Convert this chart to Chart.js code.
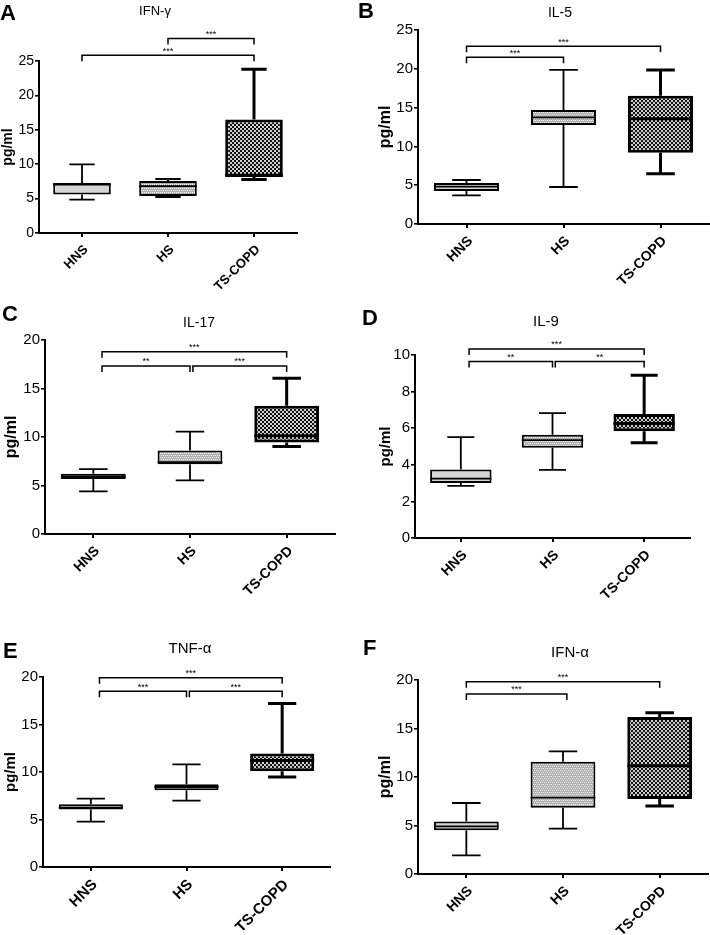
<!DOCTYPE html>
<html><head><meta charset="utf-8">
<script src="https://cdn.jsdelivr.net/npm/chart.js@4/dist/chart.umd.min.js"></script>
<style>
html,body{margin:0;padding:0;background:#fff;}
#fig{position:relative;width:710px;height:935px;overflow:hidden;background:#fff;}
canvas{position:absolute;}
</style></head><body>
<div id="fig">
<canvas id="cA" width="355" height="305" style="left:0px;top:0px"></canvas>
<canvas id="cB" width="355" height="305" style="left:355px;top:0px"></canvas>
<canvas id="cC" width="355" height="315" style="left:0px;top:305px"></canvas>
<canvas id="cD" width="355" height="315" style="left:355px;top:305px"></canvas>
<canvas id="cE" width="355" height="315" style="left:0px;top:620px"></canvas>
<canvas id="cF" width="355" height="315" style="left:355px;top:620px"></canvas>
</div>
<script>
// ---------------- DATA ----------------
const categories = ['HNS', 'HS', 'TS-COPD'];
// five-number summaries per group: [min, q1, median, q3, max]
const ifnGamma = [[4.85, 5.58, 7.05, 7.27, 9.98], [5.23, 5.38, 6.8, 7.55, 7.85], [7.76, 8.14, 8.4, 16.5, 23.8]];
const il5      = [[3.69, 4.25, 4.81, 5.28, 5.67], [4.77, 12.76, 13.75, 14.69, 19.85], [6.49, 9.19, 13.55, 16.53, 19.85]];
const il17     = [[4.39, 5.66, 5.93, 6.2, 6.69], [5.52, 7.2, 7.41, 8.62, 10.56], [9.02, 9.43, 10.12, 13.22, 16.05]];
const il9      = [[2.85, 3.01, 3.25, 3.74, 5.51], [3.72, 4.93, 5.35, 5.64, 6.82], [5.2, 5.84, 6.26, 6.77, 8.89]];
const tnfAlpha = [[4.77, 6.04, 6.25, 6.6, 7.19], [6.98, 8.07, 8.42, 8.7, 10.8], [9.47, 10.07, 11.2, 11.96, 17.2]];
const ifnAlpha = [[1.92, 4.5, 4.91, 5.4, 7.32], [4.67, 6.84, 7.87, 11.58, 12.65], [7.01, 7.73, 11.17, 16.19, 16.63]];
// significance brackets: [from category, to category, height (pg/ml), label]
const ifnGammaSig = [[1, 2, 28.26, '***'], [0, 2, 25.83, '***']];
const il5Sig      = [[0, 1, 21.5, '***'], [0, 2, 22.9, '***']];
const il17Sig     = [[0.09, 1, 17.32, '**'], [1.03, 2, 17.32, '***'], [0.09, 2, 18.8, '***']];
const il9Sig      = [[0.09, 1, 9.64, '**'], [1.03, 2, 9.64, '**'], [0.09, 2, 10.33, '***']];
const tnfAlphaSig = [[0.09, 1, 18.5, '***'], [1.03, 2, 18.5, '***'], [0.09, 2, 19.93, '***']];
const ifnAlphaSig = [[0, 1.04, 18.56, '***'], [0, 2, 19.83, '***']];
// y axis: [max, step]
const ifnGammaAxis = [25, 5];
const il5Axis      = [25, 5];
const il17Axis     = [20, 5];
const il9Axis      = [10, 2];
const tnfAlphaAxis = [20, 5];
const ifnAlphaAxis = [20, 5];
const yTitle = 'pg/ml';

// ---------------- RENDERING ----------------
const FAMILY = '"Liberation Sans", Arial, Helvetica, sans-serif';
Chart.defaults.font.family = FAMILY;
Chart.defaults.color = '#000';

function pattern(ctx, size, bg, rects, fg) {
  const c = document.createElement('canvas');
  c.width = size; c.height = size;
  const g = c.getContext('2d');
  g.fillStyle = bg; g.fillRect(0, 0, size, size);
  g.fillStyle = fg;
  rects.forEach(r => g.fillRect(r[0], r[1], r[2], r[3]));
  return ctx.createPattern(c, 'repeat');
}

function boxPlugin(stats, widths) {
  return {
    id: 'boxWhiskers',
    afterDatasetsDraw(chart) {
      const ctx = chart.ctx, y = chart.scales.y;
      const meta = chart.getDatasetMeta(0);
      meta.data.forEach((bar, i) => {
        const s = stats[i];
        const lw = widths[i];
        const x = bar.x, half = bar.width / 2, cap = bar.width * 0.22;
        const pMin = y.getPixelForValue(s[0]), pQ1 = y.getPixelForValue(s[1]);
        const pMed = y.getPixelForValue(s[2]), pQ3 = y.getPixelForValue(s[3]);
        const pMax = y.getPixelForValue(s[4]);
        ctx.save();
        ctx.strokeStyle = '#000';
        ctx.lineWidth = lw;
        ctx.beginPath();
        ctx.moveTo(x, pQ3); ctx.lineTo(x, pMax);
        ctx.moveTo(x - cap, pMax); ctx.lineTo(x + cap, pMax);
        ctx.moveTo(x, pQ1); ctx.lineTo(x, pMin);
        ctx.moveTo(x - cap, pMin); ctx.lineTo(x + cap, pMin);
        ctx.stroke();
        ctx.beginPath();
        ctx.moveTo(x - half, pMed); ctx.lineTo(x + half, pMed);
        ctx.stroke();
        ctx.restore();
      });
    }
  };
}

function bracketPlugin(items) {
  return {
    id: 'sigBrackets',
    afterDraw(chart) {
      const ctx = chart.ctx, x = chart.scales.x, y = chart.scales.y;
      ctx.save();
      ctx.strokeStyle = '#000'; ctx.fillStyle = '#000';
      ctx.lineWidth = 1.5; ctx.lineJoin = 'miter';
      ctx.font = '9px ' + FAMILY;
      ctx.textAlign = 'center'; ctx.textBaseline = 'alphabetic';
      items.forEach(it => {
        const x1 = x.getPixelForValue(it[0]), x2 = x.getPixelForValue(it[1]);
        const py = y.getPixelForValue(it[2]);
        ctx.beginPath();
        ctx.moveTo(x1, py + 6); ctx.lineTo(x1, py); ctx.lineTo(x2, py); ctx.lineTo(x2, py + 6);
        ctx.stroke();
        ctx.fillText(it[3], (x1 + x2) / 2, py - 1.5);
      });
      ctx.restore();
    }
  };
}

function textPlugin(p) {
  return {
    id: 'panelText',
    afterDraw(chart) {
      const ctx = chart.ctx;
      ctx.save();
      ctx.fillStyle = '#000';
      ctx.textBaseline = 'alphabetic';
      ctx.textAlign = 'left';
      ctx.font = 'bold 22px ' + FAMILY;
      ctx.fillText(p.letter, p.lx, p.ly);
      ctx.textAlign = 'center';
      ctx.font = p.titleSize + 'px ' + FAMILY;
      ctx.fillText(p.title, p.tx, p.ty);
      ctx.restore();
    }
  };
}

function buildPanel(p) {
  const canvas = document.getElementById(p.id);
  const ctx = canvas.getContext('2d');
  const fills = [
    '#d5d5d5',
    pattern(ctx, 4, '#b0b0b0', [[0, 0, 1, 1], [2, 0, 1, 1], [1, 2, 1, 1], [3, 2, 1, 1]], '#f2f2f2'),
    pattern(ctx, 4, '#101010', [[0, 0, 2, 2], [2, 2, 2, 2]], '#d0d0d0')
  ];
  const widths = [1.8, 1.8, 3];
  new Chart(ctx, {
    type: 'bar',
    data: {
      labels: categories,
      datasets: [{
        data: p.stats.map(s => [s[1], s[3]]),
        backgroundColor: fills,
        borderColor: '#000',
        borderWidth: [2, 2, 3],
        borderSkipped: false,
        barPercentage: 0.67,
        categoryPercentage: 1
      }]
    },
    options: {
      responsive: false,
      animation: false,
      events: [],
      layout: { padding: { left: 0, top: p.top, right: p.right, bottom: 0 } },
      plugins: { legend: { display: false }, tooltip: { enabled: false }, title: { display: false } },
      scales: {
        x: {
          type: 'category',
          offset: true,
          grid: { display: true, offset: false, drawOnChartArea: false, drawTicks: true, tickLength: 4, color: '#000', lineWidth: 2 },
          border: { display: true, color: '#000', width: 2 },
          ticks: { color: '#000', font: { size: p.catSize, weight: 'bold' }, minRotation: 45, maxRotation: 45, autoSkip: false, padding: 5, labelOffset: 4 },
          afterFit(scale) { scale.height = p.xh; }
        },
        y: {
          type: 'linear',
          min: 0, max: p.axis[0],
          grid: { display: true, drawOnChartArea: false, drawTicks: true, tickLength: 4, color: '#000', lineWidth: 1.6 },
          border: { display: true, color: '#000', width: 2 },
          ticks: { stepSize: p.axis[1], color: '#000', font: { size: p.tickSize }, padding: 1 },
          title: { display: true, text: yTitle, color: '#000', font: { size: p.ySize, weight: 'bold' }, padding: { top: p.yPad, bottom: 0 } },
          afterFit(scale) { scale.width = p.yw; }
        }
      }
    },
    plugins: [boxPlugin(p.stats, widths), bracketPlugin(p.sig), textPlugin(p)]
  });
}

const panels = [
  { id: 'cA', stats: ifnGamma, sig: ifnGammaSig, axis: ifnGammaAxis, letter: 'A', title: 'IFN-\u03b3',
    lx: 0, ly: 20, tx: 155, ty: 15, titleSize: 13, top: 61, right: 58, yw: 39, xh: 72,
    catSize: 13, tickSize: 14, ySize: 14, yPad: 0 },
  { id: 'cB', stats: il5, sig: il5Sig, axis: il5Axis, letter: 'B', title: 'IL-5',
    lx: 3, ly: 18, tx: 205, ty: 17, titleSize: 14, top: 30, right: 1, yw: 63, xh: 81,
    catSize: 14, tickSize: 15, ySize: 16, yPad: 21 },
  { id: 'cC', stats: il17, sig: il17Sig, axis: il17Axis, letter: 'C', title: 'IL-17',
    lx: 2, ly: 16, tx: 199, ty: 22, titleSize: 14, top: 35, right: 20, yw: 45, xh: 86,
    catSize: 14, tickSize: 15, ySize: 16, yPad: 1.5 },
  { id: 'cD', stats: il9, sig: il9Sig, axis: il9Axis, letter: 'D', title: 'IL-9',
    lx: 7, ly: 20, tx: 191, ty: 21, titleSize: 15, top: 50, right: 20, yw: 60, xh: 82,
    catSize: 14, tickSize: 15, ySize: 15, yPad: 22 },
  { id: 'cE', stats: tnfAlpha, sig: tnfAlphaSig, axis: tnfAlphaAxis, letter: 'E', title: 'TNF-\u03b1',
    lx: 3, ly: 38, tx: 190, ty: 33, titleSize: 15, top: 57, right: 25, yw: 43, xh: 68,
    catSize: 15, tickSize: 15, ySize: 15, yPad: 2 },
  { id: 'cF', stats: ifnAlpha, sig: ifnAlphaSig, axis: ifnAlphaAxis, letter: 'F', title: 'IFN-\u03b1',
    lx: 8, ly: 35, tx: 215, ty: 37, titleSize: 15, top: 60, right: 2, yw: 63, xh: 61,
    catSize: 14, tickSize: 15, ySize: 16, yPad: 21 }
];
panels.forEach(buildPanel);
</script>
</body></html>
